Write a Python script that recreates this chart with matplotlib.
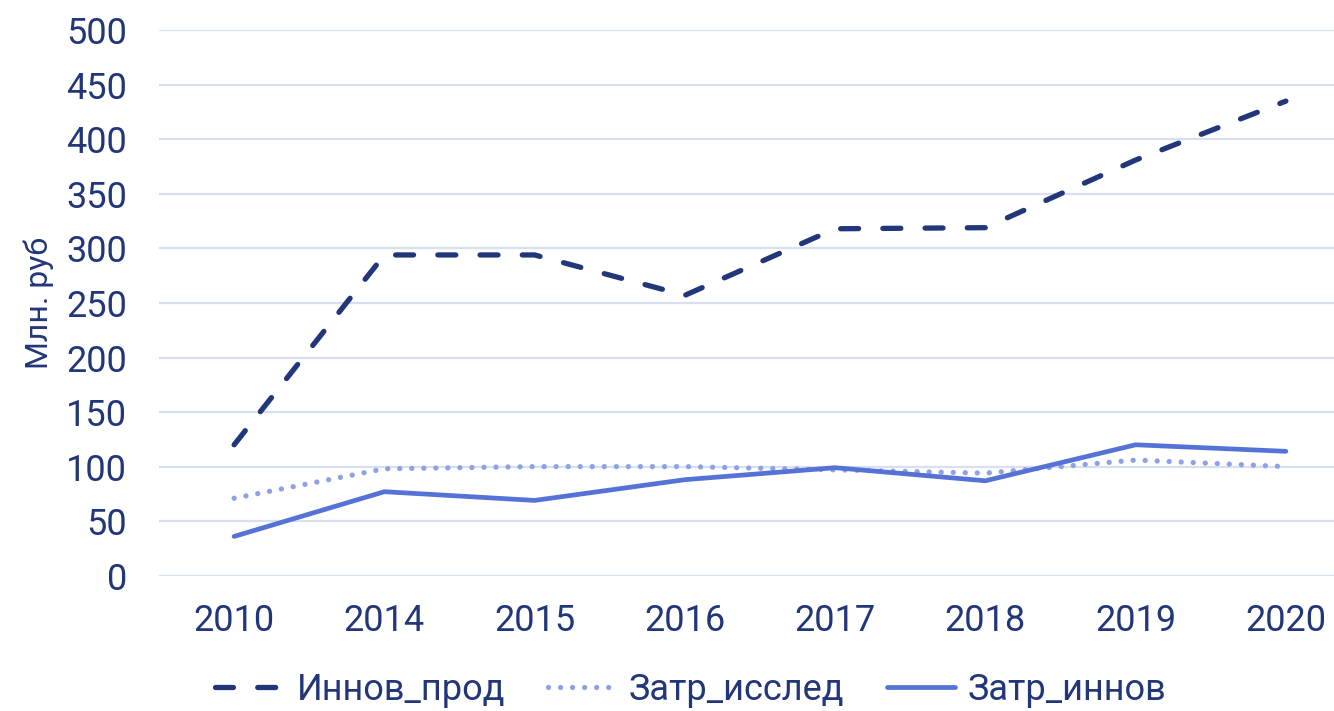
import matplotlib
matplotlib.use("Agg")
import matplotlib.pyplot as plt

years = ["2010", "2014", "2015", "2016", "2017", "2018", "2019", "2020"]
innov_prod = [120, 294, 294, 257, 318, 319, 381, 435]
zatr_issled = [71, 98, 100, 100, 97, 94, 106, 100]
zatr_innov = [36, 77, 69, 88, 99, 87, 120, 114]

NAVY = "#22367a"
LIGHT = "#8ea2e3"
MID = "#5572d6"
GRID = "#d9dff3"

plt.rcParams["font.family"] = ["Roboto", "DejaVu Sans"]

fig = plt.figure(figsize=(13.34, 7.11), dpi=100)
ax = fig.add_axes([159 / 1334, 1 - 575.7 / 711, 1202 / 1334, 545.5 / 711])

x = range(len(years))
ax.plot(x, innov_prod, color=NAVY, lw=3.8, dashes=(3.4, 4.6),
        dash_capstyle="round", solid_capstyle="round", label="Иннов_прод")
ax.plot(x, zatr_issled, color=LIGHT, lw=3.8, dashes=(0.01, 2.27),
        dash_capstyle="round", label="Затр_исслед")
ax.plot(x, zatr_innov, color=MID, lw=3.4, solid_capstyle="round",
        label="Затр_иннов")

ax.set_xlim(-0.5, len(years) - 0.5)
ax.set_ylim(0, 500)
ax.set_yticks(range(0, 501, 50))
ax.set_xticks(list(x))
ax.set_xticklabels(years)
ax.grid(axis="y", color=GRID, lw=1.6)
ax.set_axisbelow(True)
for s in ax.spines.values():
    s.set_visible(False)
ax.tick_params(length=0, labelsize=26, labelcolor=NAVY)
ax.tick_params(axis="y", pad=23)
ax.tick_params(axis="x", pad=20)
ax.set_ylabel("Млн. руб", fontsize=23, color=NAVY, labelpad=9)

fig.legend(loc="center", bbox_to_anchor=(0.518, 0.03), ncol=3, frameon=False,
           fontsize=26, labelcolor=NAVY, handlelength=1.9, handletextpad=0.35,
           columnspacing=1.18)

fig.savefig("out.png", dpi=100)
